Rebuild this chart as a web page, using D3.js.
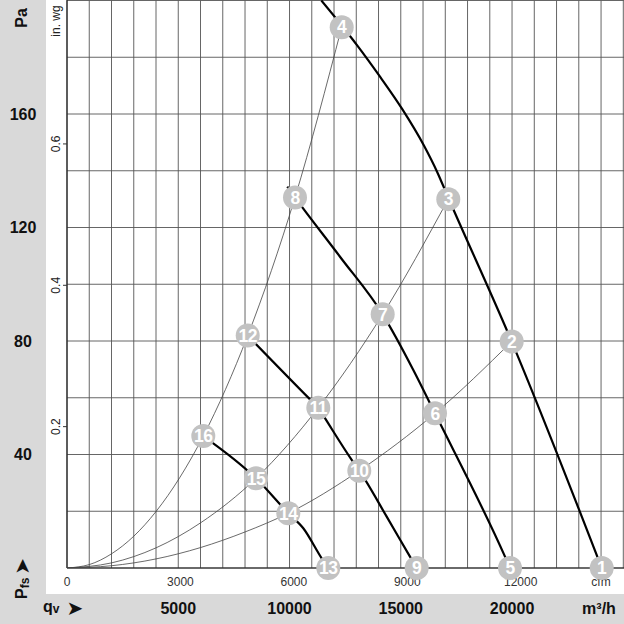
<!DOCTYPE html>
<html>
<head>
<meta charset="utf-8">
<script src="https://cdn.jsdelivr.net/npm/d3@7"></script>
<style>
    body { margin: 0; background: #fff; }
    text { font-family: "Liberation Sans", Arial, "DejaVu Sans", sans-serif; }
    .bold { font-weight: bold; fill: #111; }
    .small { font-size: 12px; fill: #222; }
</style>
</head>
<body>
<div id="vis"></div>
<script>
// Fan performance chart: pressure vs. air flow with system parabolas
//
// Values (m³/h and Pa)

/* *************************** Data ***************************** */

// Tick labels
var flowTicks = [5000, 10000, 15000, 20000];       // m³/h, bottom strip
var pressureTicks = [40, 80, 120, 160];            // Pa, left strip
var inwgTicks = [0.2, 0.4, 0.6];                   // in. wg
var cfmTicks = [0, 3000, 6000, 9000, 12000];       // cfm

// Fan curves at four speeds, [m³/h, Pa]
var fanCurve1 = [[11430, 200], [12345, 191.2], [13040, 184.2], [14090, 172.9],
    [15060, 161.8], [16040, 148.9], [16640, 139.5], [17135, 130.5], [19985, 79.8], [24030, 0]];
var fanCurve2 = [[9900, 134.4], [10246, 130.6], [12268, 109.7], [14187, 89.4],
    [15563, 69.8], [16538, 54.5], [19684, 4.0], [19909, 0]];
var fanCurve3 = [[8121, 81.9], [10900, 59.6], [11293, 56.5], [11600, 52.7], [12794, 38.1],
    [13136, 34.3], [14367, 18.1], [15414, 4.0], [15715, 0]];
var fanCurve4 = [[6125, 46.5], [8494, 31.6], [9945, 19.3], [10619, 14.0],
    [11446, 3.4], [11743, 0]];

// System curves (parabolas through the origin), [m³/h, Pa]
var systemCurveA = [[0, 0], [1000, 1.2], [2000, 5.0], [3000, 11.2], [4000, 19.9],
    [6125, 46.5], [8121, 81.9], [10246, 130.6], [12345, 190.6]];
var systemCurveB = [[0, 0], [2000, 1.8], [4000, 7.1], [6000, 15.9], [8494, 31.6],
    [11293, 56.5], [14187, 89.4], [17135, 130]];
var systemCurveC = [[0, 0], [2000, 0.8], [4000, 3.2], [6000, 7.2], [8000, 12.7],
    [9945, 19.3], [13136, 34.3], [16538, 54.5], [19985, 79.8]];

// Numbered operating points
var pointNo = [1, 2, 3, 4, 5, 6, 7, 8, 9, 10, 11, 12, 13, 14, 15, 16];
var pointFlow = [24030, 19985, 17135, 12345, 19909, 16538, 14187, 10246,
    15715, 13136, 11293, 8121, 11743, 9945, 8494, 6125];
var pointPressure = [0, 79.8, 130, 190.6, 0, 54.5, 89.4, 130.6,
    0, 34.3, 56.5, 81.9, 0, 19.3, 31.6, 46.5];

/* *************************** Settings ***************************** */

var width = 624;
var height = 624;

// plot area edges
var plotLeft = 67;
var plotRight = 623.3;
var plotTop = 0.5;
var plotBottom = 568;

var stripColor = '#d9d9d9';
var markerColor = '#c2c2c2';

var svg = d3.select('#vis')
    .append('svg')
    .attr('width', width)
    .attr('height', height);

// Scales
var xScale = d3.scaleLinear().domain([0, 25000]).range([plotLeft, plotRight]);
var yScale = d3.scaleLinear().domain([0, 200]).range([plotBottom, plotTop]);
var cfmToM3h = 1.699;
var paPerInwg = 249.09;

/* *************************** Static elements ***************************** */

// Grey strips on the left and at the bottom
svg.append('rect')
    .attr('x', 0).attr('y', 0)
    .attr('width', 46).attr('height', 594)
    .attr('fill', stripColor);
svg.append('rect')
    .attr('x', 0).attr('y', 594)
    .attr('width', width).attr('height', height - 594)
    .attr('fill', stripColor);

// Grid
var grid = svg.append('g').attr('class', 'grid');

grid.selectAll('line.v')
    .data(d3.range(0, 25001, 1000))
    .enter().append('line')
    .attr('class', 'v')
    .attr('x1', function(d) { return xScale(d); })
    .attr('x2', function(d) { return xScale(d); })
    .attr('y1', plotTop)
    .attr('y2', plotBottom)
    .attr('stroke', '#555')
    .attr('stroke-width', 0.9);

grid.selectAll('line.h')
    .data(d3.range(0, 201, 20))
    .enter().append('line')
    .attr('class', 'h')
    .attr('x1', plotLeft)
    .attr('x2', width)
    .attr('y1', function(d) { return yScale(d); })
    .attr('y2', function(d) { return yScale(d); })
    .attr('stroke', '#555')
    .attr('stroke-width', 0.9);

// Axis lines
svg.append('line')
    .attr('x1', plotLeft).attr('x2', width)
    .attr('y1', plotBottom).attr('y2', plotBottom)
    .attr('stroke', '#222').attr('stroke-width', 1.2);
svg.append('line')
    .attr('x1', plotLeft).attr('x2', plotLeft)
    .attr('y1', 0).attr('y2', plotBottom)
    .attr('stroke', '#222').attr('stroke-width', 1.2);

// Clip so curves stay inside the plot
svg.append('clipPath')
    .attr('id', 'plotClip')
    .append('rect')
    .attr('x', plotLeft).attr('y', 0)
    .attr('width', width - plotLeft).attr('height', plotBottom);

var curves = svg.append('g').attr('clip-path', 'url(#plotClip)');

var line = d3.line()
    .x(function(d) { return xScale(d[0]); })
    .y(function(d) { return yScale(d[1]); })
    .curve(d3.curveMonotoneX);

// System curves: thin grey
[systemCurveA, systemCurveB, systemCurveC].forEach(function(c) {
    curves.append('path')
        .datum(c)
        .attr('d', line)
        .attr('fill', 'none')
        .attr('stroke', '#444')
        .attr('stroke-width', 0.8);
});

// Fan curves: thick black
[fanCurve1, fanCurve2, fanCurve3, fanCurve4].forEach(function(c) {
    curves.append('path')
        .datum(c)
        .attr('d', line)
        .attr('fill', 'none')
        .attr('stroke', '#000')
        .attr('stroke-width', 2.2);
});

/* *************************** Labels ***************************** */

// Pressure (Pa) in the left strip
svg.selectAll('text.pa')
    .data(pressureTicks)
    .enter().append('text')
    .attr('class', 'pa bold')
    .attr('x', 23)
    .attr('y', function(d) { return yScale(d) + 5.5; })
    .attr('text-anchor', 'middle')
    .style('font-size', '16px')
    .text(function(d) { return d; });

svg.append('text')
    .attr('class', 'bold')
    .attr('transform', 'translate(27,18) rotate(-90)')
    .attr('text-anchor', 'middle')
    .style('font-size', '16px')
    .text('Pa');

// Pfs with arrow
var pfs = svg.append('text')
    .attr('class', 'bold')
    .attr('transform', 'translate(27,599) rotate(-90)')
    .style('font-size', '16px');
pfs.append('tspan').text('P');
pfs.append('tspan').attr('dy', 2).style('font-size', '12px').text('fs');
pfs.append('tspan').attr('dy', 0).attr('dx', 3)
    .style('font-family', '"DejaVu Sans", sans-serif')
    .style('font-size', '20px')
    .text('➤');

// in. wg ticks and labels
svg.selectAll('line.inwg')
    .data(inwgTicks)
    .enter().append('line')
    .attr('class', 'inwg')
    .attr('x1', plotLeft - 4).attr('x2', plotLeft)
    .attr('y1', function(d) { return yScale(d * paPerInwg); })
    .attr('y2', function(d) { return yScale(d * paPerInwg); })
    .attr('stroke', '#333');

svg.selectAll('text.inwg')
    .data(inwgTicks)
    .enter().append('text')
    .attr('class', 'inwg small')
    .attr('text-anchor', 'middle')
    .attr('transform', function(d) {
        return 'translate(60,' + yScale(d * paPerInwg) + ') rotate(-90)';
    })
    .text(function(d) { return d; });

svg.append('text')
    .attr('class', 'small')
    .attr('text-anchor', 'middle')
    .attr('transform', 'translate(59.5,21) rotate(-90)')
    .text('in. wg');

// cfm labels below the plot
svg.selectAll('text.cfm')
    .data(cfmTicks)
    .enter().append('text')
    .attr('class', 'cfm small')
    .attr('x', function(d) { return xScale(d * cfmToM3h); })
    .attr('y', 586)
    .attr('text-anchor', 'middle')
    .style('fill', '#333')
    .text(function(d) { return d; });

svg.append('text')
    .attr('class', 'small')
    .attr('x', 601)
    .attr('y', 586)
    .attr('text-anchor', 'middle')
    .style('fill', '#333')
    .text('cfm');

// m³/h labels in the bottom strip
svg.selectAll('text.flow')
    .data(flowTicks)
    .enter().append('text')
    .attr('class', 'flow bold')
    .attr('x', function(d) { return xScale(d); })
    .attr('y', 614)
    .attr('text-anchor', 'middle')
    .style('font-size', '16px')
    .text(function(d) { return d; });

svg.append('text')
    .attr('class', 'bold')
    .attr('x', 599)
    .attr('y', 614)
    .attr('text-anchor', 'middle')
    .style('font-size', '16px')
    .text('m³/h');

var qv = svg.append('text')
    .attr('class', 'bold')
    .attr('x', 43)
    .attr('y', 612)
    .style('font-size', '16px');
qv.append('tspan').text('q');
qv.append('tspan').attr('dy', 1).style('font-size', '12px').text('v');
qv.append('tspan').attr('dy', 2).attr('dx', 7)
    .style('font-family', '"DejaVu Sans", sans-serif')
    .style('font-size', '20px')
    .text('➤');

/* *************************** Operating points ***************************** */

var points = pointNo.map(function(n, i) {
    return { no: n, flow: pointFlow[i], pressure: pointPressure[i] };
});

var marks = svg.selectAll('g.point')
    .data(points)
    .enter().append('g')
    .attr('class', 'point')
    .attr('transform', function(d) {
        return 'translate(' + xScale(d.flow) + ',' + yScale(d.pressure) + ')';
    });

marks.append('circle')
    .attr('r', 12)
    .attr('fill', markerColor);

marks.append('text')
    .attr('text-anchor', 'middle')
    .attr('dy', '0.36em')
    .style('font-size', '17.5px')
    .style('font-weight', 'bold')
    .style('fill', '#fff')
    .style('letter-spacing', '-0.5px')
    .text(function(d) { return d.no; });
</script>
</body>
</html>
